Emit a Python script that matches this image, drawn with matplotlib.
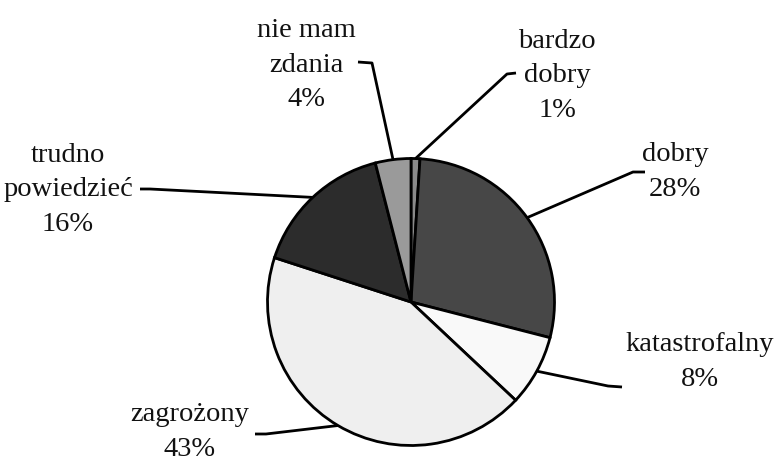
import numpy as np
import matplotlib
matplotlib.use("Agg")
import matplotlib.pyplot as plt

# slices, clockwise from 12 o'clock
labels = ["bardzo\ndobry", "dobry", "katastrofalny", "zagrożony",
          "trudno\npowiedzieć", "nie mam\nzdania"]
values = [1, 28, 8, 43, 16, 4]
colors = ["#8a8a8a", "#474747", "#f9f9f9", "#efefef", "#2c2c2c", "#9a9a9a"]

# label placement (pixel coords, y up) and the knee of each leader line
text_pos = [(557, 387), (675, 291), (700, 101), (190, 31), (68, 273), (306, 398)]
line_end = [(516, 390), (645, 291), (622, 76), (255, 29), (140, 274), (358, 401)]
line_knee = [(507, 389), (633, 291), (608, 77), (266, 29), (150, 274), (372, 400)]

W, H = 777, 463
center = (411, 161)
radius = 143.5


def main():
    plt.rcParams["font.family"] = ["Liberation Serif", "DejaVu Serif"]
    fig = plt.figure(figsize=(W / 100, H / 100), dpi=100)
    ax = fig.add_axes([0, 0, 1, 1])

    wedges, _ = ax.pie(values, colors=colors, startangle=90, counterclock=False,
                       center=center, radius=radius, frame=True,
                       wedgeprops=dict(edgecolor="black", linewidth=2.0))
    ax.set_xlim(0, W)
    ax.set_ylim(0, H)
    ax.set_aspect("equal")
    ax.axis("off")

    for w, lab, v, tp, le, lk in zip(wedges, labels, values, text_pos, line_end, line_knee):
        mid = np.deg2rad((w.theta1 + w.theta2) / 2)
        ax_pt = (center[0] + radius * np.cos(mid), center[1] + radius * np.sin(mid))
        ax.plot([le[0], lk[0], ax_pt[0]], [le[1], lk[1], ax_pt[1]],
                color="black", lw=2.0, solid_capstyle="butt", zorder=3)
        ax.text(tp[0], tp[1], f"{lab}\n{v}%", ha="center", va="center",
                fontsize=20.5, linespacing=1.5, color="#111111")

    fig.savefig("out.png", dpi=100)


if __name__ == "__main__":
    main()
